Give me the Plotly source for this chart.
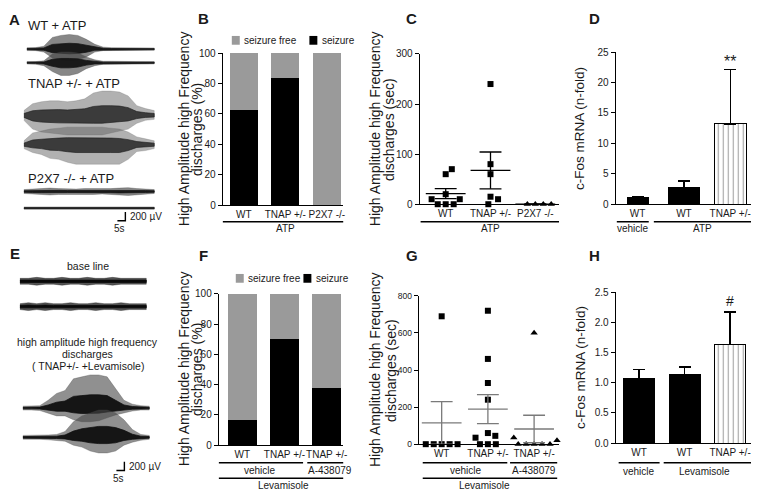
import numpy as np
import plotly.graph_objects as go

# browser page keeps an 8px body margin, so the figure is sized to the space left
W, H = 760, 497
OFF = 8
FW, FH = W - OFF, H - OFF
FONT = "Liberation Sans, Arial, sans-serif"
INK = "#1a1a1a"
GREY = "#9a9a9a"

# ---- values ----
groups_b = ["WT", "TNAP +/-", "P2X7 -/-"]
seizure_b = [62.5, 83.3, 0.0]

groups_c = ["WT", "TNAP +/-", "P2X7 -/-"]
dur_c_wt = [0, 0, 0, 10, 10, 20, 60, 70]
dur_c_tnap = [15, 10, 0, 60, 80, 240]
dur_c_p2x7 = [0, 0, 0, 0]

groups_d = ["WT", "WT", "TNAP +/-"]
cfos_d = [1.1, 2.7, 13.2]
cfos_d_sem = [0.2, 1.1, 8.9]

groups_f = ["WT", "TNAP +/-", "TNAP +/-"]
seizure_f = [16.7, 70.0, 37.5]

groups_g = ["WT", "TNAP +/-", "TNAP +/-"]
dur_g_wt = [0, 0, 0, 0, 0, 690]
dur_g_tnap = [0, 0, 0, 60, 45, 35, 240, 330, 460, 720]
dur_g_a438 = [0, 0, 0, 0, 0, 20, 35, 600]

groups_h = ["WT", "WT", "TNAP +/-"]
cfos_h = [1.07, 1.14, 1.63]
cfos_h_sem = [0.15, 0.12, 0.54]

# EEG sweeps: half amplitude above / below baseline along each sweep
wt_atp_1_up = [1.5, 1.5, 3, 12, 14, 15, 14, 10, 5, 2, 1.5, 1.5, 1.5, 1.5, 1.2, 1.2]
wt_atp_1_dn = [1.5, 1.5, 3, 9, 11, 12, 11, 8, 3, 1.5, 1.5, 1.5, 1.5, 1.2, 1.2, 1.2]
wt_atp_2_up = [1.2, 1.2, 2, 9, 11, 11, 10, 6, 3, 1.5, 1.5, 1.2, 1.2, 1.2, 1.2, 1.2]
wt_atp_2_dn = [1.2, 1.5, 3, 9, 13, 13, 11, 6, 3, 1.5, 1.5, 1.2, 1.2, 1.2, 1.2, 1.2]
tnap_atp_1_up = [5, 12, 14, 15, 15, 14, 15, 17, 23, 25, 25, 24, 20, 10, 7, 5]
tnap_atp_1_dn = [5, 14, 17, 18, 19, 20, 20, 20, 20, 20, 18, 16, 14, 8, 5, 4]
tnap_atp_2_up = [4, 12, 14, 16, 17, 18, 18, 18, 18, 18, 17, 16, 13, 8, 6, 4]
tnap_atp_2_dn = [4, 8, 10, 14, 15, 18, 20, 20, 20, 20, 20, 20, 15, 7, 6, 4]
p2x7_atp_1 = [2, 2.5, 3, 3.5, 3, 2.5, 2.5, 3, 3, 2.5, 3, 3.5, 4, 3, 2.5, 2]
p2x7_atp_2 = [1.2, 1.2, 1.2, 1.2, 1.2, 1.2, 1.2, 1.2, 1.2, 1.2, 1.2, 1.2, 1.2, 1.2, 1.2, 1.2]
base_1 = [3, 3, 4, 3, 3, 4, 3, 3, 4, 3, 3, 4, 3, 3, 3, 3]
base_2 = [3, 4, 3, 4, 3, 3, 4, 3, 3, 4, 3, 3, 4, 3, 3, 3]
lev_1_up = [2, 2, 2.5, 8, 15, 18, 30, 32, 34, 34, 32, 20, 8, 4, 2.5, 2]
lev_1_dn = [2, 2, 2.5, 5, 8, 8, 12, 14, 14, 13, 10, 7, 5, 3, 2, 2]
lev_2_up = [2, 2, 2, 2.5, 3, 6, 16, 22, 25, 28, 28, 25, 18, 8, 3, 2]
lev_2_dn = [2, 2, 2, 2.5, 3, 4, 8, 10, 14, 16, 16, 14, 8, 5, 3, 2]


def px(x):
    return (x - OFF) / FW


def py(y):
    return 1 - (y - OFF) / FH


fig = go.Figure()


def xax(a, b, rng, labels, anchor):
    return dict(domain=[px(a), px(b)], range=rng, tickvals=list(range(len(labels))),
                ticktext=labels, ticks="", tickangle=0, showline=True, linecolor="black",
                linewidth=1.3, showgrid=False, zeroline=False, tickfont=dict(size=10, color=INK),
                ticklabeloverflow="allow", anchor=anchor, fixedrange=True)


def yax(top, bot, rng, dtick, anchor, fmt=None, size=10):
    return dict(domain=[py(bot), py(top)], range=rng, dtick=dtick, tick0=0, showline=True,
                linecolor="black", linewidth=1.3, ticks="outside", ticklen=4, tickwidth=1.2,
                tickcolor="black", showgrid=False, zeroline=False,
                tickfont=dict(size=size, color=INK), tickformat=fmt, anchor=anchor,
                fixedrange=True)


# ---- B and F: stacked percentage bars ----
for xa, ya, seiz in (("x", "y", seizure_b), ("x4", "y4", seizure_f)):
    fig.add_trace(go.Bar(x=[0, 1, 2], y=seiz, width=0.68, marker=dict(color="black", line=dict(width=0)),
                         xaxis=xa, yaxis=ya, showlegend=False))
    fig.add_trace(go.Bar(x=[0, 1, 2], y=[100 - s for s in seiz], width=0.68,
                         marker=dict(color=GREY, line=dict(width=0)),
                         xaxis=xa, yaxis=ya, showlegend=False))


# ---- C and G: dot plots with mean +/- SEM ----
def swarm(vals, unit_px, gap=8.0):
    placed, offs = [], []
    for v in vals:
        y = v * unit_px
        cands = [0.0]
        for p in placed:
            dy = abs(y - p[1])
            if dy < gap:
                d = np.sqrt(gap ** 2 - dy ** 2)
                cands += [p[0] + d, p[0] - d]
        cands.sort(key=lambda c: (abs(c), -c))
        for c in cands:
            if all((c - p[0]) ** 2 + (y - p[1]) ** 2 >= gap ** 2 - 1e-6 for p in placed):
                break
        placed.append((c, y))
        offs.append(c)
    return offs


def dotplot(xa, ya, sets, symbols, unit_px, step_px, mcol):
    for i, (vals, sym) in enumerate(zip(sets, symbols)):
        offs = swarm(vals, unit_px)
        fig.add_trace(go.Scatter(x=[i + o / step_px for o in offs], y=vals, mode="markers",
                                 marker=dict(symbol=sym, size=6 if sym == "square" else 6.5, color="black"),
                                 cliponaxis=False, xaxis=xa, yaxis=ya, showlegend=False))
        n = len(vals)
        m = float(np.mean(vals))
        s = float(np.std(vals, ddof=1) / np.sqrt(n)) if n > 1 else 0.0
        hw, cw = 20 / step_px, 11 / step_px
        fig.add_trace(go.Scatter(x=[i - hw, i + hw, None, i - cw, i + cw, None, i - cw, i + cw, None, i, i],
                                 y=[m, m, None, m + s, m + s, None, m - s, m - s, None, m - s, m + s],
                                 mode="lines", line=dict(color=mcol, width=1.3), cliponaxis=False,
                                 xaxis=xa, yaxis=ya, showlegend=False))


dotplot("x2", "y2", [dur_c_wt, dur_c_tnap, dur_c_p2x7], ["square", "square", "triangle-up"],
        154 / 300, 45, "black")
dotplot("x5", "y5", [dur_g_wt, dur_g_tnap, dur_g_a438], ["square", "square", "triangle-up"],
        152 / 800, 46.5, "#7a7a7a")

# ---- D and H: c-Fos bars ----
for xa, ya, vals, sem, widths in (("x3", "y3", cfos_d, cfos_d_sem, [0.45, 0.67, 0.69]),
                                  ("x6", "y6", cfos_h, cfos_h_sem, [0.68, 0.68, 0.68])):
    fig.add_trace(go.Bar(x=[0, 1, 2], y=vals, width=widths,
                         marker=dict(color=["black", "black", "white"], line=dict(color="black", width=1.2),
                                     pattern=dict(shape=["", "", "|"], fgcolor="black", bgcolor="white",
                                                  size=5, solidity=0.22)),
                         error_y=dict(type="data", array=sem, arrayminus=[0, 0, 0], symmetric=False,
                                      color="black", thickness=1.3, width=6),
                         xaxis=xa, yaxis=ya, showlegend=False))


# ---- A and E: EEG sweeps on a pixel overlay ----
def eeg(x0, x1, yc, up, dn, fill, core):
    xs = np.linspace(x0, x1, len(up))
    up = np.array(up, float)
    dn = np.array(dn, float)
    fig.add_trace(go.Scatter(x=np.r_[xs, xs[::-1]], y=np.r_[yc - up, (yc + dn)[::-1]], mode="lines",
                             fill="toself", fillcolor=fill, line=dict(color=fill, width=0.5),
                             xaxis="x7", yaxis="y7", showlegend=False, hoverinfo="skip"))
    fig.add_trace(go.Scatter(x=np.r_[xs, xs[::-1]], y=np.r_[yc - 0.4 * up, (yc + 0.4 * dn)[::-1]],
                             mode="lines", fill="toself", fillcolor=core, line=dict(color=core, width=0.8),
                             xaxis="x7", yaxis="y7", showlegend=False, hoverinfo="skip"))


eeg(27, 155, 44, wt_atp_1_up, wt_atp_1_dn, "rgba(70,70,70,0.65)", "rgba(20,20,20,0.95)")
eeg(27, 155, 58, wt_atp_2_up, wt_atp_2_dn, "rgba(70,70,70,0.65)", "rgba(20,20,20,0.95)")
eeg(24, 155, 112, tnap_atp_1_up, tnap_atp_1_dn, "rgba(100,100,100,0.5)", "rgba(30,30,30,0.8)")
eeg(24, 155, 142, tnap_atp_2_up, tnap_atp_2_dn, "rgba(100,100,100,0.5)", "rgba(30,30,30,0.8)")
eeg(24, 155, 190, p2x7_atp_1, p2x7_atp_1, "rgba(80,80,80,0.7)", "rgba(20,20,20,0.95)")
eeg(24, 155, 207, p2x7_atp_2, p2x7_atp_2, "rgba(80,80,80,0.7)", "rgba(20,20,20,0.95)")
eeg(20, 147, 282, base_1, base_1, "rgba(40,40,40,0.8)", "rgba(10,10,10,1)")
eeg(20, 147, 308, base_2, base_2, "rgba(40,40,40,0.8)", "rgba(10,10,10,1)")
eeg(23, 150, 412, lev_1_up, lev_1_dn, "rgba(70,70,70,0.6)", "rgba(15,15,15,0.95)")
eeg(23, 150, 442, lev_2_up, lev_2_dn, "rgba(70,70,70,0.6)", "rgba(15,15,15,0.95)")

shapes = []
annos = []


def text(x, y, s, size=11, xanchor="center", bold=False, angle=0):
    annos.append(dict(x=px(x), y=py(y), xref="paper", yref="paper", text=f"<b>{s}</b>" if bold else s,
                      showarrow=False, xanchor=xanchor, yanchor="middle", textangle=angle,
                      font=dict(family=FONT, size=size, color=INK)))


def seg(xref, x0, x1, y):
    shapes.append(dict(type="line", xref=xref, yref="paper", x0=x0, x1=x1, y0=py(y), y1=py(y),
                       line=dict(color="black", width=1.4)))


# scale bars
for bx, by in ((126, 220), (125, 476)):
    shapes.append(dict(type="path", xref="x7", yref="y7",
                       path=f"M{bx - 8},{by} L{bx},{by} L{bx},{by - 9}", line=dict(color="black", width=1.4)))
    text(bx + 3, by - 4, "200 µV", 10, "left")
    text(bx - 6, by + 8, "5s", 10)

# panel letters
for lx, ly, s in ((15, 14, "A"), (205, 13, "B"), (414, 13, "C"), (598, 13, "D"),
                  (15, 254, "E"), (205, 256, "F"), (414, 256, "G"), (598, 256, "H")):
    text(lx, ly, s, 15, bold=True)

text(26, 20, "WT + ATP", 13, "left")
text(26, 79, "TNAP +/- + ATP", 13, "left")
text(26, 177, "P2X7 -/- + ATP", 13, "left")
text(88, 266, "base line", 10.5)
text(88, 344, "high amplitude high frequency", 10.5)
text(88, 357, "discharges", 10.5)
text(88, 369, "( TNAP+/- +Levamisole)", 10.5)

# y titles (two rotated lines each)
for x1, x2, yc, unit in ((185, 198, 126, "(%)"), (185, 198, 372, "(%)"),
                         (377, 391, 126, "(sec)"), (377, 393, 373, "(sec)")):
    text(x1, yc, "High Amplitude high Frequency", 14, angle=-90)
    text(x2, yc, "discharges " + unit, 14, angle=-90)
text(582, 125, "c-Fos mRNA (n-fold)", 13.5, angle=-90)
text(583, 370, "c-Fos mRNA (n-fold)", 13.5, angle=-90)

# manual legends for B and F
for gx, bx, ly in ((233, 311, 35), (237, 305, 279)):
    shapes.append(dict(type="rect", xref="paper", yref="paper", x0=px(gx), x1=px(gx + 8),
                       y0=py(ly + 4.5), y1=py(ly - 4.5), fillcolor=GREY, line=dict(width=0)))
    shapes.append(dict(type="rect", xref="paper", yref="paper", x0=px(bx), x1=px(bx + 8),
                       y0=py(ly + 4.5), y1=py(ly - 4.5), fillcolor="black", line=dict(width=0)))
    text(gx + 10, ly, "seizure free", 10, "left")
    text(bx + 11, ly, "seizure", 10, "left")


def glabel(xref, x, y, s):
    annos.append(dict(x=x, y=py(y), xref=xref, yref="paper", text=s, showarrow=False,
                      font=dict(family=FONT, size=10, color=INK), yanchor="middle"))


# group brackets (in each panel's own x units)
seg("x", -0.53, 2.47, 221)
glabel("x", 1, 228, "ATP")
seg("x2", -0.56, 2.53, 221)
glabel("x2", 1, 228, "ATP")
seg("x3", -0.45, 0.24, 221)
seg("x3", 0.35, 2.45, 221)
glabel("x3", -0.1, 228, "vehicle")
glabel("x3", 1.4, 228, "ATP")

seg("x4", -0.58, 1.44, 468)
seg("x4", 1.54, 2.48, 468)
seg("x4", -0.58, 2.48, 484)
glabel("x4", 0.43, 476, "vehicle")
glabel("x4", 2.07, 476, "A-438079")
glabel("x4", 0.97, 491, "Levamisole")

seg("x5", -0.41, 1.42, 468)
seg("x5", 1.48, 2.5, 468)
seg("x5", -0.41, 2.5, 484)
glabel("x5", 0.52, 476, "vehicle")
glabel("x5", 2.0, 476, "A-438079")
glabel("x5", 0.93, 491, "Levamisole")

seg("x6", -0.45, 0.45, 468)
seg("x6", 0.54, 2.46, 468)
glabel("x6", 0.0, 477, "vehicle")
glabel("x6", 1.43, 477, "Levamisole")

# significance marks
annos.append(dict(x=2, y=cfos_d[2] + cfos_d_sem[2], xref="x3", yref="y3", text="**", showarrow=False,
                  yanchor="bottom", yshift=-2, font=dict(family=FONT, size=16, color=INK)))
annos.append(dict(x=2, y=cfos_h[2] + cfos_h_sem[2], xref="x6", yref="y6", text="#", showarrow=False,
                  yanchor="bottom", yshift=1, font=dict(family=FONT, size=14, color=INK)))

fig.update_layout(
    width=FW, height=FH, margin=dict(l=0, r=0, t=0, b=0),
    paper_bgcolor="white", plot_bgcolor="rgba(0,0,0,0)",
    font=dict(family=FONT, color=INK), barmode="stack", showlegend=False,
    xaxis=xax(224, 345, [-0.503, 2.395], groups_b, "y"),
    yaxis=yax(48, 204, [0, 100], 20, "x"),
    xaxis2=xax(422, 562, [-0.578, 2.53], groups_c, "y2"),
    yaxis2=yax(49, 203, [0, 300], 100, "x2"),
    xaxis3=xax(619, 755, [-0.473, 2.45], groups_d, "y3"),
    yaxis3=yax(47, 203, [0, 25], 5, "x3"),
    xaxis4=xax(220, 345, [-0.553, 2.39], groups_f, "y4"),
    yaxis4=yax(295, 450, [0, 100], 20, "x4"),
    xaxis5=xax(421, 562, [-0.495, 2.54], groups_g, "y5"),
    yaxis5=yax(297, 449, [0, 800], 200, "x5", size=8.5),
    xaxis6=xax(619, 755, [-0.514, 2.46], groups_h, "y6"),
    yaxis6=yax(293, 448, [0, 2.5], 0.5, "x6", fmt=".1f"),
    xaxis7=dict(domain=[0, 1], range=[OFF, W], visible=False, anchor="y7", fixedrange=True),
    yaxis7=dict(domain=[0, 1], range=[H, OFF], visible=False, anchor="x7", fixedrange=True),
    shapes=shapes, annotations=annos,
)

fig.write_html("out.html")
